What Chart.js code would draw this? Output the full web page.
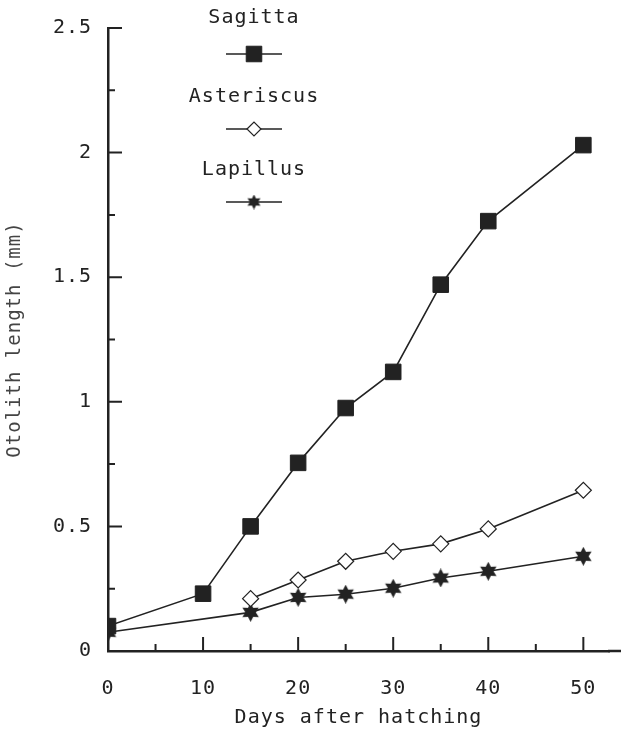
<!DOCTYPE html>
<html>
<head>
<meta charset="utf-8">
<script src="https://cdn.jsdelivr.net/npm/chart.js@4/dist/chart.umd.min.js"></script>
<style>
  body { margin: 0; background: #fff; }
  #wrap { width: 622px; height: 732px; position: relative; }
</style>
</head>
<body>
<div id="wrap"><canvas id="otolithChart"></canvas></div>
<script>
const sagittaDays = [0, 10, 15, 20, 25, 30, 35, 40, 50];
const sagittaLength = [0.10, 0.23, 0.50, 0.755, 0.975, 1.12, 1.47, 1.725, 2.03];

const asteriscusDays = [15, 20, 25, 30, 35, 40, 50];
const asteriscusLength = [0.21, 0.285, 0.36, 0.40, 0.43, 0.49, 0.645];

const lapillusDays = [0, 15, 20, 25, 30, 35, 40, 50];
const lapillusLength = [0.075, 0.155, 0.215, 0.228, 0.252, 0.293, 0.32, 0.38];

const seriesNames = ['Sagitta', 'Asteriscus', 'Lapillus'];

const ink = '#222';
const font = "'DejaVu Sans Mono', 'Liberation Mono', monospace";

// filled six-pointed star for the lapillus markers
function makeStar(size) {
  const c = document.createElement('canvas');
  c.width = size;
  c.height = size;
  const g = c.getContext('2d');
  const r = size / 2;
  g.fillStyle = ink;
  g.beginPath();
  for (let i = 0; i < 12; i++) {
    const a = -Math.PI / 2 + i * Math.PI / 6;
    const rr = i % 2 ? r * 0.55 : r;
    g.lineTo(r + rr * Math.cos(a), r + rr * Math.sin(a));
  }
  g.closePath();
  g.fill();
  return c;
}

function toPoints(xs, ys) {
  return xs.map((x, i) => ({ x: x, y: ys[i] }));
}

const starBig = makeStar(19);
const starSmall = makeStar(15);

// inward tick marks and the stacked legend
const decorPlugin = {
  id: 'decor',
  beforeDraw(chart) {
    chart.ctx.letterSpacing = '1px';
  },
  afterDraw(chart) {
    const ctx = chart.ctx;
    const xs = chart.scales.x;
    const ys = chart.scales.y;
    const area = chart.chartArea;
    ctx.save();
    ctx.strokeStyle = ink;
    ctx.lineWidth = 2;
    ctx.beginPath();
    for (let v = 0.25; v <= 2.5001; v += 0.25) {
      const py = ys.getPixelForValue(v);
      const len = Math.abs(v * 2 - Math.round(v * 2)) < 0.01 ? 14 : 7;
      ctx.moveTo(area.left, py);
      ctx.lineTo(area.left + len, py);
    }
    for (let v = 5; v <= 50; v += 5) {
      const px = xs.getPixelForValue(v);
      const len = v % 10 === 0 ? 14 : 7;
      ctx.moveTo(px, area.bottom);
      ctx.lineTo(px, area.bottom - len);
    }
    ctx.stroke();
    // the x axis runs on to the edge of the figure
    ctx.lineWidth = 2.5;
    ctx.beginPath();
    ctx.moveTo(area.right - 1, area.bottom);
    ctx.lineTo(chart.width - 1, area.bottom);
    ctx.stroke();

    // legend: name above a short line with the marker
    const cx = 254;
    const rows = [18, 97, 170];
    const marks = [54, 129, 202];
    ctx.font = '20px ' + font;
    ctx.letterSpacing = '1px';
    ctx.fillStyle = ink;
    ctx.textAlign = 'center';
    ctx.textBaseline = 'middle';
    chart.data.datasets.forEach((ds, i) => {
      ctx.fillText(seriesNames[i], cx, rows[i]);
      ctx.lineWidth = 1.3;
      ctx.strokeStyle = ink;
      ctx.beginPath();
      ctx.moveTo(cx - 28, marks[i]);
      ctx.lineTo(cx + 28, marks[i]);
      ctx.stroke();
      ctx.fillStyle = ds.pointBackgroundColor;
      ctx.lineWidth = ds.pointBorderWidth;
      Chart.helpers.drawPoint(ctx, {
        pointStyle: i === 2 ? starSmall : ds.pointStyle,
        radius: i === 1 ? 7 : ds.pointRadius,
        rotation: 0,
        borderWidth: ds.pointBorderWidth
      }, cx, marks[i]);
      ctx.fillStyle = ink;
    });
    ctx.restore();
  }
};

new Chart(document.getElementById('otolithChart'), {
  type: 'line',
  data: {
    datasets: [
      {
        label: seriesNames[0],
        data: toPoints(sagittaDays, sagittaLength),
        borderColor: ink,
        borderWidth: 1.6,
        pointStyle: 'rect',
        pointRadius: 11,
        pointBackgroundColor: ink,
        pointBorderColor: ink,
        pointBorderWidth: 1
      },
      {
        label: seriesNames[1],
        data: toPoints(asteriscusDays, asteriscusLength),
        borderColor: ink,
        borderWidth: 1.6,
        pointStyle: 'rectRot',
        pointRadius: 8,
        pointBackgroundColor: '#fff',
        pointBorderColor: ink,
        pointBorderWidth: 1.2
      },
      {
        label: seriesNames[2],
        data: toPoints(lapillusDays, lapillusLength),
        borderColor: ink,
        borderWidth: 1.6,
        pointStyle: starBig,
        pointRadius: 9,
        pointBackgroundColor: ink,
        pointBorderColor: ink,
        pointBorderWidth: 1
      }
    ]
  },
  options: {
    responsive: true,
    maintainAspectRatio: false,
    animation: false,
    layout: { padding: { top: 19, right: 0, left: 0, bottom: 0 } },
    plugins: {
      legend: { display: false },
      tooltip: { enabled: false }
    },
    scales: {
      x: {
        type: 'linear',
        min: 0,
        max: 52.7,
        afterFit(s) { s.height = 81; },
        grid: { display: false, drawTicks: false },
        border: { display: true, color: ink, width: 2.5 },
        ticks: {
          stepSize: 5,
          includeBounds: false,
          autoSkip: false,
          maxRotation: 0,
          padding: 26,
          color: ink,
          font: { family: font, size: 20 },
          callback: v => (v % 10 === 0 ? String(v) : '')
        },
        title: {
          display: true,
          text: 'Days after hatching',
          color: ink,
          font: { family: font, size: 20 },
          padding: { top: 0, bottom: 2 }
        }
      },
      y: {
        min: 0,
        max: 2.5,
        afterFit(s) { s.width = 108; },
        grid: { display: false, drawTicks: false },
        border: { display: true, color: ink, width: 2.5 },
        ticks: {
          stepSize: 0.25,
          autoSkip: false,
          padding: 16,
          color: ink,
          font: { family: font, size: 20 },
          callback: v => (Math.abs(v * 2 - Math.round(v * 2)) < 0.001 ? String(v) : '')
        },
        title: {
          display: true,
          text: 'Otolith length (mm)',
          color: '#444',
          font: { family: font, size: 19 },
          padding: { top: 4, bottom: 0 }
        }
      }
    }
  },
  plugins: [decorPlugin]
});
</script>
</body>
</html>
